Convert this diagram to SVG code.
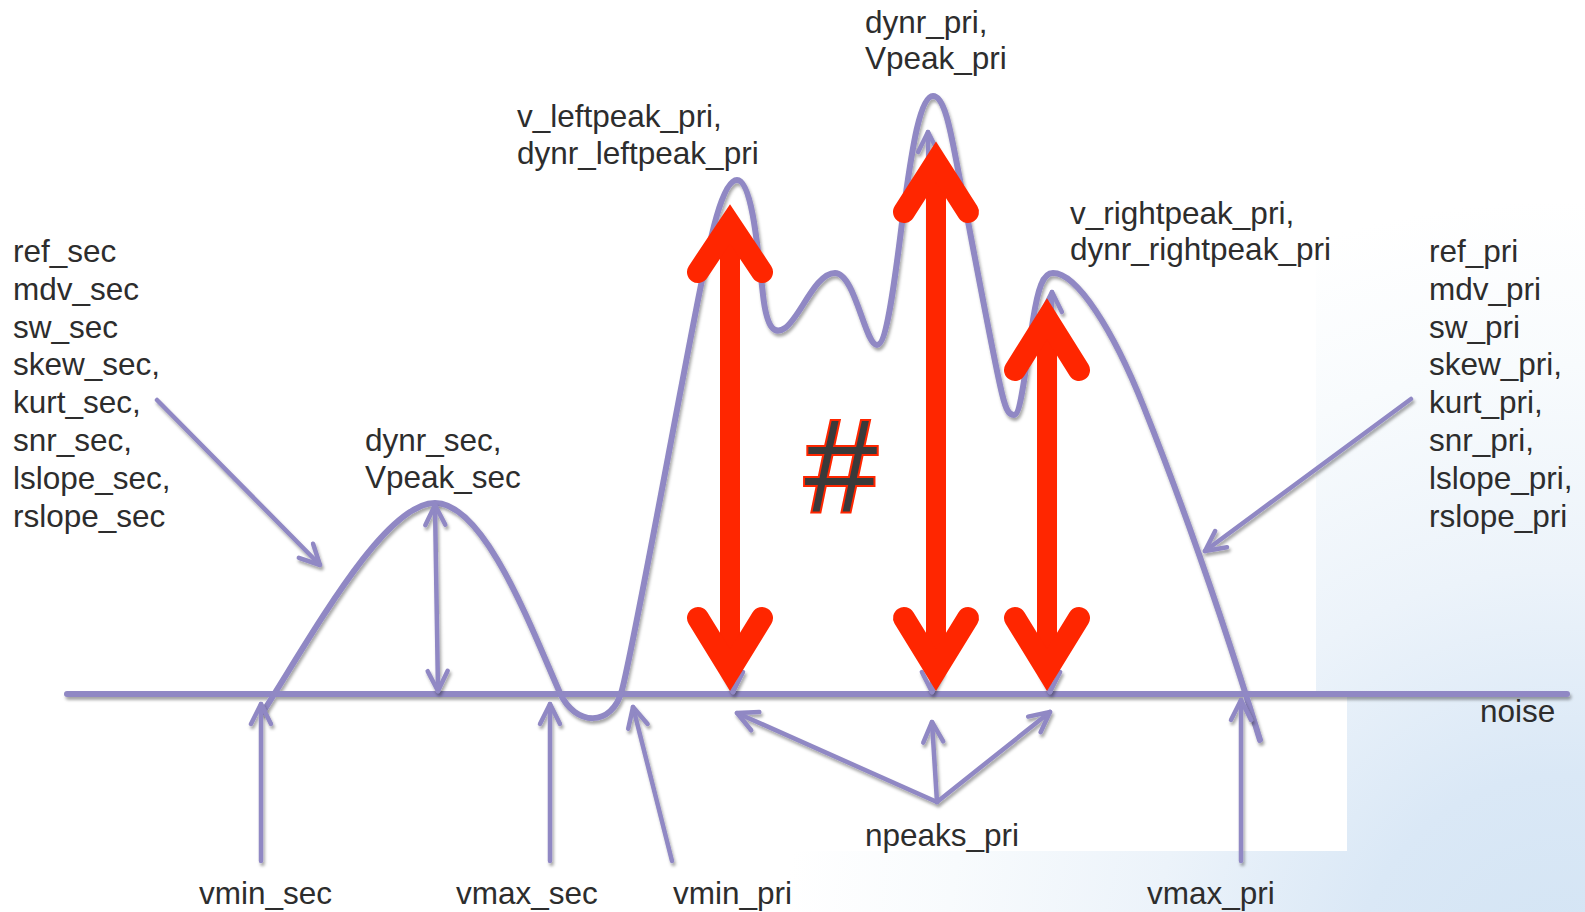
<svg xmlns="http://www.w3.org/2000/svg" width="1585" height="912" viewBox="0 0 1585 912">
<defs>
<radialGradient id="bg" gradientUnits="userSpaceOnUse" cx="1560" cy="980" r="820">
<stop offset="0" stop-color="#d3e4f4"/>
<stop offset="0.25" stop-color="#dae8f6"/>
<stop offset="0.5" stop-color="#ecf3fa"/>
<stop offset="0.75" stop-color="#f8fbfd"/>
<stop offset="0.95" stop-color="#ffffff"/>
</radialGradient>
<filter id="sh" x="-10%" y="-10%" width="120%" height="130%">
<feDropShadow dx="1.5" dy="3" stdDeviation="1.5" flood-color="#000" flood-opacity="0.35"/>
</filter>
<marker id="lav" markerUnits="userSpaceOnUse" markerWidth="30" markerHeight="30" viewBox="-25 -15 30 30" refX="0" refY="0" orient="auto-start-reverse" overflow="visible">
<path d="M-20,-10 L0,0 L-20,10" fill="none" stroke="#9088c4" stroke-width="4.5" stroke-linecap="round" stroke-linejoin="round"/>
</marker>
<style>
.t{font-family:"Liberation Sans",Arial,sans-serif;font-size:31.5px;fill:#2d2d2d}
.lv{fill:none;stroke:#9088c4;stroke-width:4.5;stroke-linecap:round}
.cv{fill:none;stroke:#9088c4;stroke-width:6;stroke-linecap:round;stroke-linejoin:round}
.rs{stroke:#ff2600;stroke-width:20;fill:none}
.rh{stroke:#ff2600;stroke-width:22;fill:none;stroke-linecap:round;stroke-linejoin:miter;stroke-miterlimit:10}
</style>
</defs>
<rect x="0" y="0" width="1585" height="912" fill="url(#bg)"/>
<rect x="0" y="0" width="1316" height="697" fill="#fff"/>
<rect x="0" y="697" width="1347" height="154" fill="#fff"/>

<g id="signal" filter="url(#sh)">
<line class="cv" x1="67" y1="694" x2="1567" y2="694" stroke-linecap="butt"/>
<path class="cv" d="M263,712 C315,630 385,503 435,503 C485,503 532,630 560,693 C575,726 612,728 622,690 C634,645 678,400 700,290 C710,240 722,180 737,180 C752,180 758,250 763,295 C767,330 775,335 785,328 C800,318 815,273 835,273 C855,273 865,345 877,345 C889,345 898,250 905,200 C912,150 920,96 933,96 C946,96 952,140 960,180 C968,220 990,340 1000,385 C1005,408 1008,415 1014,415 C1021,415 1026,365 1033,320 C1038,288 1043,273 1053,273 C1077,273 1113,330 1143,405 C1173,480 1217,600 1260,740"/>
</g>

<g id="connectors" filter="url(#sh)">
<line class="lv" x1="435" y1="505" x2="438" y2="691" marker-start="url(#lav)" marker-end="url(#lav)"/>
<line class="lv" x1="733" y1="260" x2="733" y2="692" marker-end="url(#lav)"/>
<line class="lv" x1="928" y1="132" x2="932" y2="692" marker-start="url(#lav)" marker-end="url(#lav)"/>
<line class="lv" x1="1052" y1="292" x2="1050" y2="692" marker-start="url(#lav)" marker-end="url(#lav)"/>
<line class="lv" x1="157" y1="400" x2="320" y2="565" marker-end="url(#lav)"/>
<line class="lv" x1="1411" y1="399" x2="1205" y2="551" marker-end="url(#lav)"/>
<line class="lv" x1="261" y1="861" x2="261" y2="704" marker-end="url(#lav)"/>
<line class="lv" x1="550" y1="861" x2="550" y2="704" marker-end="url(#lav)"/>
<line class="lv" x1="672" y1="861" x2="633" y2="707" marker-end="url(#lav)"/>
<line class="lv" x1="1241" y1="861" x2="1241" y2="700" marker-end="url(#lav)"/>
<line class="lv" x1="937" y1="802" x2="737" y2="713" marker-end="url(#lav)"/>
<line class="lv" x1="937" y1="802" x2="932" y2="722" marker-end="url(#lav)"/>
<line class="lv" x1="937" y1="802" x2="1050" y2="712" marker-end="url(#lav)"/>
</g>

<g id="red-arrows">
<line class="rs" x1="730" y1="226" x2="730" y2="668"/>
<path class="rh" d="M698,272 L730,224 L762,272"/>
<path class="rh" d="M698,618 L730,670 L762,618"/>
<line class="rs" x1="936" y1="164" x2="936" y2="668"/>
<path class="rh" d="M904,212 L936,162 L968,212"/>
<path class="rh" d="M904,618 L936,670 L968,618"/>
<line class="rs" x1="1047" y1="321" x2="1047" y2="668"/>
<path class="rh" d="M1015,370 L1047,319 L1079,370"/>
<path class="rh" d="M1015,618 L1047,670 L1079,618"/>
</g>

<g id="hash">
<text x="841" y="511" text-anchor="middle" style="font-family:'Liberation Sans',Arial,sans-serif;font-size:131px;fill:#3a3a3a;stroke:#ff2600;stroke-width:4;paint-order:stroke">#</text>
</g>

<g id="sec-params">
<text class="t" x="13" y="262">ref_sec</text>
<text class="t" x="13" y="299.8">mdv_sec</text>
<text class="t" x="13" y="337.6">sw_sec</text>
<text class="t" x="13" y="375.4">skew_sec,</text>
<text class="t" x="13" y="413.2">kurt_sec,</text>
<text class="t" x="13" y="451">snr_sec,</text>
<text class="t" x="13" y="488.8">lslope_sec,</text>
<text class="t" x="13" y="526.6">rslope_sec</text>
</g>
<g id="pri-params">
<text class="t" x="1429" y="262">ref_pri</text>
<text class="t" x="1429" y="299.8">mdv_pri</text>
<text class="t" x="1429" y="337.6">sw_pri</text>
<text class="t" x="1429" y="375.4">skew_pri,</text>
<text class="t" x="1429" y="413.2">kurt_pri,</text>
<text class="t" x="1429" y="451">snr_pri,</text>
<text class="t" x="1429" y="488.8">lslope_pri,</text>
<text class="t" x="1429" y="526.6">rslope_pri</text>
</g>
<g id="sec-peak"><text class="t" x="365" y="451">dynr_sec,</text><text class="t" x="365" y="488">Vpeak_sec</text></g>
<g id="leftpeak"><text class="t" x="517" y="127">v_leftpeak_pri,</text><text class="t" x="517" y="164">dynr_leftpeak_pri</text></g>
<g id="mainpeak"><text class="t" x="865" y="32.5">dynr_pri,</text><text class="t" x="865" y="68.5">Vpeak_pri</text></g>
<g id="rightpeak"><text class="t" x="1070" y="224">v_rightpeak_pri,</text><text class="t" x="1070" y="260">dynr_rightpeak_pri</text></g>
<g id="noise"><text class="t" x="1480" y="722">noise</text></g>
<g id="npeaks"><text class="t" x="865" y="846">npeaks_pri</text></g>
<g id="vmin-sec"><text class="t" x="199" y="904">vmin_sec</text></g>
<g id="vmax-sec"><text class="t" x="456" y="904">vmax_sec</text></g>
<g id="vmin-pri"><text class="t" x="673" y="904">vmin_pri</text></g>
<g id="vmax-pri"><text class="t" x="1147" y="904">vmax_pri</text></g>
</svg>
